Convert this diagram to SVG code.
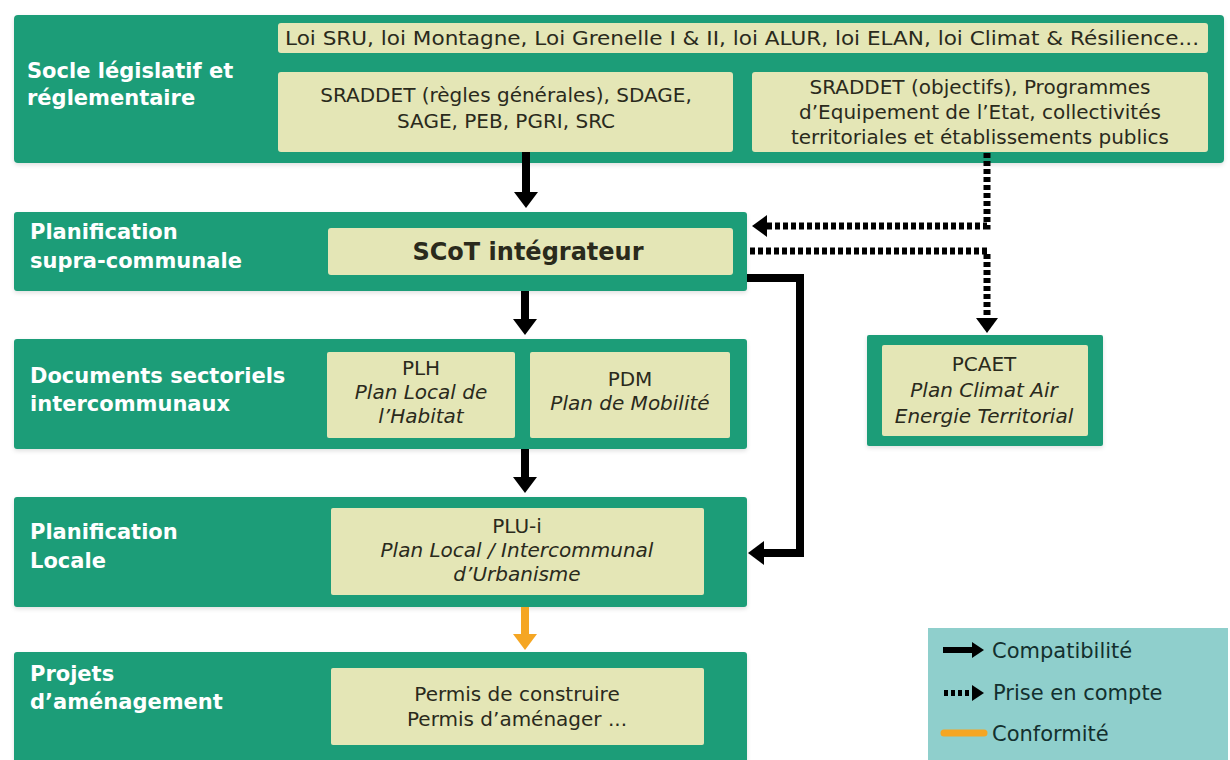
<svg xmlns="http://www.w3.org/2000/svg" width="1230" height="760" viewBox="0 0 1230 760">
<defs>
<style>
.blk{fill:#1f9d78;}
.in{fill:#e4e6b6;}
.lbl{font-family:"DejaVu Sans",sans-serif;font-weight:bold;font-size:21px;fill:#ffffff;}
.t{font-family:"DejaVu Sans",sans-serif;font-size:20px;fill:#2a2a1c;text-anchor:middle;}
.ti{font-style:italic;}
.big{font-weight:bold;font-size:24px;}
.leg{font-family:"DejaVu Sans",sans-serif;font-size:21px;fill:#13302e;}
.solid{fill:none;stroke:#000;stroke-width:8;}
.dot{fill:none;stroke:#000;stroke-width:7;stroke-dasharray:5 3;}
.conf{fill:none;stroke:#f5a623;stroke-width:8;}
</style>
<marker id="hb" viewBox="0 0 16 24" refX="0" refY="12" markerWidth="16" markerHeight="24" markerUnits="userSpaceOnUse" orient="auto"><path d="M0,0 L16,12 L0,24 Z" fill="#000"/></marker>
<marker id="hd" viewBox="0 0 15 22" refX="0" refY="11" markerWidth="15" markerHeight="22" markerUnits="userSpaceOnUse" orient="auto"><path d="M0,0 L15,11 L0,22 Z" fill="#000"/></marker>
<marker id="hs" viewBox="0 0 12 16" refX="0" refY="8" markerWidth="12" markerHeight="16" markerUnits="userSpaceOnUse" orient="auto"><path d="M0,0 L12,8 L0,16 Z" fill="#000"/></marker>
<marker id="ho" viewBox="0 0 16 24" refX="0" refY="12" markerWidth="16" markerHeight="24" markerUnits="userSpaceOnUse" orient="auto"><path d="M0,0 L16,12 L0,24 Z" fill="#f5a623"/></marker>
<filter id="sh" x="-5%" y="-10%" width="110%" height="120%"><feDropShadow dx="0" dy="2" stdDeviation="2" flood-color="#000" flood-opacity="0.12"/></filter>
</defs>
<rect width="1230" height="760" fill="#ffffff"/>

<g id="socle">
<rect class="blk" x="14" y="15" width="1210" height="148" rx="4" filter="url(#sh)"/>
<text class="lbl" x="27" y="78">Socle législatif et</text>
<text class="lbl" x="27" y="105">réglementaire</text>
<rect class="in" x="278" y="23" width="930" height="30" rx="3"/>
<text class="t" x="742" y="45" textLength="914" lengthAdjust="spacingAndGlyphs">Loi SRU, loi Montagne, Loi Grenelle I &amp; II, loi ALUR, loi ELAN, loi Climat &amp; Résilience...</text>
<rect class="in" x="278" y="72" width="455" height="80" rx="3"/>
<text class="t" x="506" y="102">SRADDET (règles générales), SDAGE,</text>
<text class="t" x="506" y="128">SAGE, PEB, PGRI, SRC</text>
<rect class="in" x="752" y="72" width="456" height="80" rx="3"/>
<text class="t" x="980" y="94">SRADDET (objectifs), Programmes</text>
<text class="t" x="980" y="119">d’Equipement de l’Etat, collectivités</text>
<text class="t" x="980" y="144">territoriales et établissements publics</text>
</g>

<g id="supra">
<rect class="blk" x="14" y="212" width="733" height="79" rx="3" filter="url(#sh)"/>
<text class="lbl" x="30" y="239">Planification</text>
<text class="lbl" x="30" y="268">supra-communale</text>
<rect class="in" x="328" y="228" width="405" height="47" rx="3"/>
<text class="t big" x="528" y="260">SCoT intégrateur</text>
</g>

<g id="sectoriels">
<rect class="blk" x="14" y="339" width="733" height="110" rx="3" filter="url(#sh)"/>
<text class="lbl" x="30" y="383">Documents sectoriels</text>
<text class="lbl" x="30" y="411">intercommunaux</text>
<rect class="in" x="327" y="352" width="188" height="86" rx="2"/>
<text class="t" x="421" y="375">PLH</text>
<text class="t ti" x="421" y="399">Plan Local de</text>
<text class="t ti" x="421" y="423">l’Habitat</text>
<rect class="in" x="530" y="352" width="200" height="86" rx="2"/>
<text class="t" x="630" y="386">PDM</text>
<text class="t ti" x="630" y="410">Plan de Mobilité</text>
</g>

<g id="locale">
<rect class="blk" x="14" y="497" width="733" height="110" rx="3" filter="url(#sh)"/>
<text class="lbl" x="30" y="539">Planification</text>
<text class="lbl" x="30" y="568">Locale</text>
<rect class="in" x="331" y="508" width="373" height="87" rx="2"/>
<text class="t" x="517" y="533">PLU-i</text>
<text class="t ti" x="517" y="557">Plan Local / Intercommunal</text>
<text class="t ti" x="517" y="581">d’Urbanisme</text>
</g>

<g id="projets">
<rect class="blk" x="14" y="652" width="733" height="115" rx="3" filter="url(#sh)"/>
<text class="lbl" x="30" y="681">Projets</text>
<text class="lbl" x="30" y="709">d’aménagement</text>
<rect class="in" x="331" y="668" width="373" height="77" rx="2"/>
<text class="t" x="517" y="701">Permis de construire</text>
<text class="t" x="517" y="726">Permis d’aménager ...</text>
</g>

<g id="pcaet">
<rect class="blk" x="867" y="335" width="236" height="111" rx="2" filter="url(#sh)"/>
<rect class="in" x="882" y="345" width="206" height="91" rx="2"/>
<text class="t" x="984" y="371">PCAET</text>
<text class="t ti" x="984" y="397">Plan Climat Air</text>
<text class="t ti" x="984" y="423">Energie Territorial</text>
</g>

<g id="legende">
<rect x="928" y="628" width="300" height="135" fill="#8fcfcc"/>
<path d="M943,650 H972" stroke="#000" stroke-width="6" fill="none" marker-end="url(#hs)"/>
<text class="leg" x="992" y="658">Compatibilité</text>
<path d="M944,693 H972" stroke="#000" stroke-width="6" fill="none" stroke-dasharray="4 3" marker-end="url(#hs)"/>
<text class="leg" x="993" y="700">Prise en compte</text>
<path d="M944,733 H984" stroke="#f5a623" stroke-width="7" fill="none" stroke-linecap="round"/>
<text class="leg" x="992" y="741">Conformité</text>
</g>

<g id="connecteurs">
<path class="solid" d="M526,152 V192" marker-end="url(#hb)"/>
<path class="solid" d="M525,291 V319" marker-end="url(#hb)"/>
<path class="solid" d="M525,449 V477" marker-end="url(#hb)"/>
<path class="conf" d="M525,607 V634" marker-end="url(#ho)"/>
<path class="solid" d="M747,278 H800 V553 H764" marker-end="url(#hb)"/>
<path class="dot" d="M987,153 V226 H767" marker-end="url(#hd)"/>
<path class="dot" d="M750,251 H987 V318" marker-end="url(#hd)"/>
</g>
</svg>
